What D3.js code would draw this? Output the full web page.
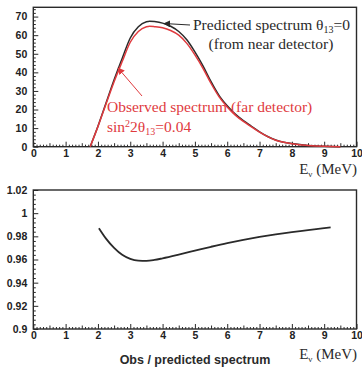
<!DOCTYPE html>
<html>
<head>
<meta charset="utf-8">
<script src="https://cdn.jsdelivr.net/npm/d3@7"></script>
<style>
  html, body { margin: 0; padding: 0; background: #fff; }
  svg { display: block; }
  .tick text { font-family: "Liberation Sans", Arial, sans-serif; font-weight: bold; font-size: 10.5px; fill: #222; }
  .domain { display: none; }
</style>
</head>
<body>
<svg id="chart" width="362" height="367"></svg>
<script>
// Neutrino energy grid (MeV) for the spectra
const energy = [1.76, 2.0, 2.25, 2.5, 2.75, 3.0, 3.25, 3.5, 3.6, 3.75, 4.0, 4.25, 4.5, 4.75, 5.0,
                5.25, 5.5, 5.75, 6.0, 6.25, 6.5, 6.75, 7.0, 7.25, 7.5, 7.75, 8.0, 8.5, 9.0, 9.5];
// Predicted spectrum, theta13 = 0 (near detector)
const predicted = [0, 11, 23.5, 36, 47.5, 58.5, 64.5, 67.2, 67.5, 67.3, 66.5, 64.8, 62, 57.5, 51,
                   43.5, 35, 27.5, 22, 17.5, 14, 11, 8, 5.5, 3.6, 2.4, 1.7, 0.7, 0.2, 0];
// Observed spectrum, far detector (sin^2 2theta13 = 0.04)
const observed = [0, 10.8, 23, 35, 45.8, 56.2, 62, 64.5, 64.8, 64.6, 64, 62.5, 60, 55.6, 49.4,
                  42.2, 34, 26.8, 21.4, 17, 13.6, 10.7, 7.8, 5.4, 3.5, 2.35, 1.65, 0.7, 0.2, 0];

// Ratio observed / predicted
const ratioEnergy = [2.03, 2.25, 2.5, 2.75, 3.0, 3.25, 3.5, 3.75, 4.0, 4.5, 5.0, 5.5, 6.0, 6.5,
                     7.0, 7.5, 8.0, 8.5, 9.0, 9.2];
const ratio = [0.987, 0.978, 0.970, 0.964, 0.9605, 0.9590, 0.9588, 0.9596, 0.9610, 0.9642,
               0.9676, 0.9710, 0.9742, 0.9770, 0.9795, 0.9817, 0.9836, 0.9853, 0.9870, 0.9877];

const xTicks = [0, 1, 2, 3, 4, 5, 6, 7, 8, 9, 10];
const topYTicks = [0, 10, 20, 30, 40, 50, 60, 70];
const botYTicks = [0.9, 0.92, 0.94, 0.96, 0.98, 1, 1.02];
const botYLabels = ["0.9", "0.92", "0.94", "0.96", "0.98", "1", "1.02"];

const svg = d3.select("#chart");
const INK = "#2a2a2a";
const RED = "#e03a3e";

const left = 33.3, right = 356.5;
const x = d3.scaleLinear().domain([0, 10]).range([left, right]);

function frame(y, top, bottom, yMajor, yMinor, yFmt) {
  const g = svg.append("g");
  // x ticks: major, half and minor, all pointing into the plot
  g.append("g").attr("transform", `translate(0,${bottom})`)
    .call(d3.axisBottom(x).tickValues(xTicks).tickFormat(d3.format("d"))
      .tickSizeInner(-5).tickSizeOuter(0).tickPadding(3))
    .call(s => s.selectAll("line").attr("stroke", INK));
  g.append("g").attr("transform", `translate(0,${bottom})`)
    .call(d3.axisBottom(x).tickValues(d3.range(0.5, 10, 1)).tickFormat("")
      .tickSizeInner(-3.5).tickSizeOuter(0))
    .call(s => s.selectAll("line").attr("stroke", INK));
  g.append("g").attr("transform", `translate(0,${bottom})`)
    .call(d3.axisBottom(x).tickValues(d3.range(0, 100).map(i => i / 10).filter(v => Math.abs(v * 2 - Math.round(v * 2)) > 1e-6))
      .tickFormat("").tickSizeInner(-2).tickSizeOuter(0))
    .call(s => s.selectAll("line").attr("stroke", INK));
  // y ticks
  g.append("g").attr("transform", `translate(${left},0)`)
    .call(d3.axisLeft(y).tickValues(yMajor).tickFormat(yFmt)
      .tickSizeInner(-5).tickSizeOuter(0).tickPadding(6))
    .call(s => s.selectAll("line").attr("stroke", INK));
  g.append("g").attr("transform", `translate(${left},0)`)
    .call(d3.axisLeft(y).tickValues(yMinor).tickFormat("")
      .tickSizeInner(-2.5).tickSizeOuter(0))
    .call(s => s.selectAll("line").attr("stroke", INK));
  // surrounding box
  g.append("rect").attr("x", left).attr("y", top)
    .attr("width", right - left).attr("height", bottom - top)
    .attr("fill", "none").attr("stroke", INK).attr("stroke-width", 1.4);
  return g;
}

// ---------- Upper panel: spectra ----------
const yTop = d3.scaleLinear().domain([0, 75]).range([146.7, 7.3]);
frame(yTop, 7.3, 146.7, topYTicks,
  d3.range(0, 75, 2).filter(v => v % 10 !== 0), d3.format("d"));

const specLine = vals => d3.line()
  .x((d, i) => x(energy[i])).y(d => yTop(d))
  .curve(d3.curveMonotoneX)(vals);

svg.append("path").attr("d", specLine(predicted))
  .attr("fill", "none").attr("stroke", INK).attr("stroke-width", 1.5);
svg.append("path").attr("d", specLine(observed))
  .attr("fill", "none").attr("stroke", RED).attr("stroke-width", 1.5);

const defs = svg.append("defs");
function arrowHead(id, color) {
  defs.append("marker").attr("id", id).attr("viewBox", "0 0 10 10")
    .attr("refX", 9).attr("refY", 5).attr("markerWidth", 7).attr("markerHeight", 7)
    .attr("markerUnits", "userSpaceOnUse").attr("orient", "auto")
    .append("path").attr("d", "M0,0 L10,5 L0,10 Z").attr("fill", color);
}
arrowHead("arrK", INK);
arrowHead("arrR", RED);

// pointer to predicted curve
svg.append("line").attr("x1", 190).attr("y1", 25).attr("x2", 164).attr("y2", 23.5)
  .attr("stroke", INK).attr("stroke-width", 1).attr("marker-end", "url(#arrK)");
// pointer to observed curve
svg.append("line").attr("x1", 142).attr("y1", 96).attr("x2", 118).attr("y2", 68)
  .attr("stroke", RED).attr("stroke-width", 1).attr("marker-end", "url(#arrR)");

const serif = "'Liberation Serif', 'Times New Roman', serif";
const t1 = svg.append("text").attr("x", 193).attr("y", 30)
  .attr("font-family", serif).attr("font-size", 15.5).attr("fill", INK);
t1.append("tspan").text("Predicted spectrum θ");
t1.append("tspan").attr("font-size", 10).attr("dy", 2.5).text("13");
t1.append("tspan").attr("dy", -2.5).text("=0");
svg.append("text").attr("x", 271).attr("y", 49)
  .attr("text-anchor", "middle")
  .attr("font-family", serif).attr("font-size", 15.5).attr("fill", INK)
  .text("(from near detector)");

svg.append("text").attr("x", 107).attr("y", 112)
  .attr("font-family", serif).attr("font-size", 15.5).attr("fill", RED)
  .text("Observed spectrum (far detector)");
const t3 = svg.append("text").attr("x", 107).attr("y", 132)
  .attr("font-family", serif).attr("font-size", 15.5).attr("fill", RED);
t3.append("tspan").text("sin");
t3.append("tspan").attr("font-size", 10).attr("dy", -5).text("2");
t3.append("tspan").attr("dy", 5).text("2θ");
t3.append("tspan").attr("font-size", 10).attr("dy", 3).text("13");
t3.append("tspan").attr("dy", -3).text("=0.04");

function evLabel(yPos) {
  const t = svg.append("text").attr("x", 357).attr("y", yPos).attr("text-anchor", "end")
    .attr("font-family", serif).attr("font-size", 15).attr("fill", INK);
  t.append("tspan").text("E");
  t.append("tspan").attr("font-size", 9).attr("dy", 2.5).text("ν");
  t.append("tspan").attr("dy", -2.5).text(" (MeV)");
}
evLabel(174);

// ---------- Lower panel: ratio ----------
const yBot = d3.scaleLinear().domain([0.9, 1.02]).range([329, 190]);
frame(yBot, 190, 329, botYTicks,
  d3.range(0, 31).map(i => 0.9 + i * 0.004).filter((v, i) => i % 5 !== 0),
  (d, i) => botYLabels[i]);

svg.append("path")
  .attr("d", d3.line().x((d, i) => x(ratioEnergy[i])).y(d => yBot(d))
    .curve(d3.curveMonotoneX)(ratio))
  .attr("fill", "none").attr("stroke", INK).attr("stroke-width", 1.8);

evLabel(359);
svg.append("text").attr("x", 195).attr("y", 364).attr("text-anchor", "middle")
  .attr("font-family", "'Liberation Sans', Arial, sans-serif").attr("font-weight", "bold")
  .attr("font-size", 12.5).attr("fill", INK)
  .text("Obs / predicted spectrum");
</script>
</body>
</html>
